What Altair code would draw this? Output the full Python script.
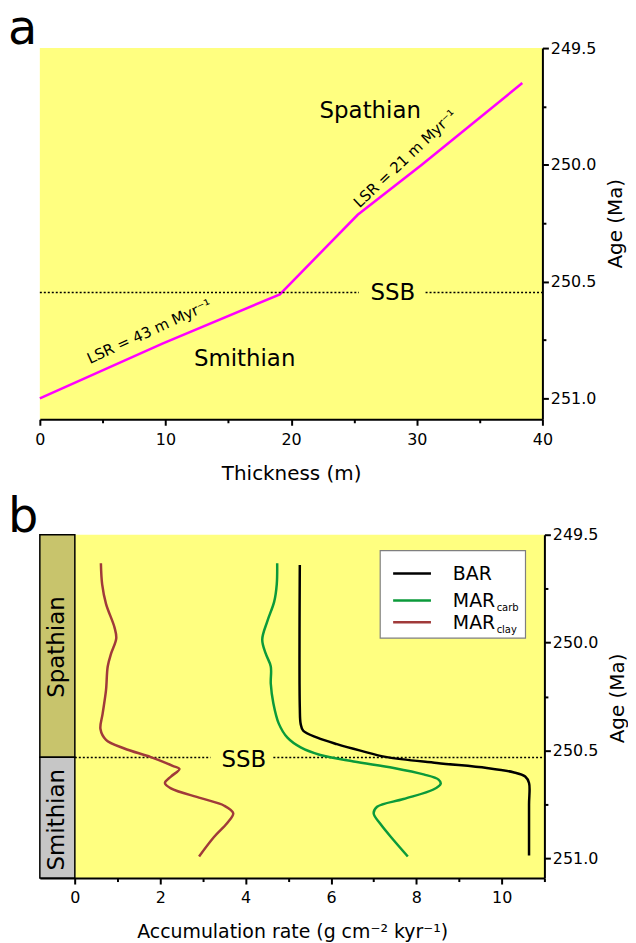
import altair as alt
import pandas as pd

FONT = "DejaVu Sans"
YELLOW = "#ffff80"

# ---------------- panel a data ----------------
thick_m = [0.0, 9.8, 19.1, 25.3, 30.4, 38.4]
thick_age = [251.0, 250.765, 250.555, 250.214, 250.0, 249.65]

ssb_age_a = 250.547
ssb_a_start = [0.0, 30.7]
ssb_a_end = [25.4, 40.0]

a_labels = ["Spathian", "Smithian", "SSB"]
a_label_x = [26.3, 16.3, 28.1]
a_label_age = [249.80, 250.86, 250.58]

lsr_labels = ["LSR = 43 m Myr⁻¹", "LSR = 21 m Myr⁻¹"]
lsr_x = [8.7, 29.07]
lsr_age = [250.714, 249.974]

panel_letters = ["a", "b"]

# ---------------- panel b data ----------------
stage_names = ["Spathian", "Smithian"]
stage_top = [249.5, 250.53]
stage_base = [250.53, 251.09]
stage_colors = ["#c8c46c", "#c6c6c6"]
stage_text_age = [250.02, 250.82]

bar_age = [249.64, 250.30, 250.376, 250.408, 250.44, 250.47, 250.50, 250.53,
           250.557, 250.58, 250.60, 250.62, 250.65, 250.75, 250.985]
bar_val = [5.27, 5.27, 5.29, 5.35, 5.68, 6.14, 6.69, 7.31,
           8.48, 9.65, 10.27, 10.55, 10.64, 10.64, 10.64]

carb_age = [249.632, 249.73, 249.81, 249.90, 249.985, 250.05, 250.11, 250.19,
            250.28, 250.376, 250.44, 250.485, 250.52, 250.55, 250.58, 250.61,
            250.634, 250.653, 250.68, 250.724, 250.76, 250.79, 250.84, 250.915, 250.99]
carb_val = [4.74, 4.73, 4.67, 4.51, 4.39, 4.47, 4.59, 4.59,
            4.65, 4.78, 4.98, 5.29, 5.75, 6.53, 7.47, 8.17,
            8.52, 8.57, 8.40, 7.70, 7.08, 7.00, 7.16, 7.47, 7.80]

clay_age = [249.632, 249.73, 249.82, 249.93, 249.98, 250.05, 250.11, 250.22,
            250.33, 250.40, 250.45, 250.49, 250.53, 250.57, 250.585, 250.62,
            250.65, 250.675, 250.72, 250.755, 250.79, 250.835, 250.90, 250.99]
clay_val = [0.61, 0.64, 0.73, 0.93, 0.97, 0.85, 0.77, 0.73,
            0.65, 0.60, 0.73, 1.16, 1.78, 2.29, 2.45, 2.25,
            2.11, 2.25, 2.95, 3.50, 3.71, 3.57, 3.26, 2.91]

series_names = ["BAR", "MAR_carb", "MAR_clay"]
series_colors = ["#000000", "#0b9a3a", "#a03a3a"]

ssb_age_b = 250.532
ssb_b_start = [0.0, 4.65]
ssb_b_end = [3.18, 11.0]
ssb_b_text_x = 3.96
ssb_b_text_age = 250.578

legend_main = ["BAR", "MAR", "MAR"]
legend_sub = ["", "carb", "clay"]

# ---------------- shared axis styling ----------------
y_values = [249.5, 249.75, 250.0, 250.25, 250.5, 250.75, 251.0]
major_y = "(datum.value * 4) % 2 === 0"


def y_enc(title_y, field="age:Q"):
    return alt.Y(
        field,
        scale=alt.Scale(domain=[249.5, 251.09], reverse=True, nice=False, zero=False),
        axis=alt.Axis(
            orient="right", values=y_values, format=".1f",
            labelExpr=f"{major_y} ? datum.label : ''",
            tickSize={"condition": {"test": major_y, "value": 6}, "value": 3.5},
            labelPadding=2, title="Age (Ma)", titleFontSize=20,
            titleAngle=270, titleBaseline="top", titlePadding=10, titleY=title_y,
        ),
    )


def xa_enc(field="x:Q"):
    return alt.X(
        field,
        scale=alt.Scale(domain=[0, 40], nice=False, zero=False),
        axis=alt.Axis(
            values=list(range(0, 41, 5)),
            labelExpr="datum.value % 10 === 0 ? datum.label : ''",
            tickSize={"condition": {"test": "datum.value % 10 === 0", "value": 6}, "value": 3.5},
            labelPadding=6, title="Thickness (m)", titleFontSize=20, titlePadding=17,
        ),
    )


def xb_enc(field="x:Q"):
    return alt.X(
        field,
        scale=alt.Scale(domain=[-0.82, 11.0], nice=False, zero=False),
        axis=alt.Axis(
            values=list(range(0, 12)),
            labelExpr="datum.value % 2 === 0 ? datum.label : ''",
            tickSize={"condition": {"test": "datum.value % 2 === 0", "value": 6}, "value": 3.5},
            labelPadding=6, title="Accumulation rate (g cm⁻² kyr⁻¹)", titleFontSize=19,
            titlePadding=17,
        ),
    )


TY_A = 176
TY_B = 164

# ---------------- panel a ----------------
df_line_a = pd.DataFrame({"x": thick_m, "age": thick_age})
line_a = alt.Chart(df_line_a).mark_line(color="#ff00ff", strokeWidth=2.5).encode(
    x=xa_enc(), y=y_enc(TY_A), order="age:Q"
)

df_ssb_a = pd.DataFrame({"x": ssb_a_start, "x2": ssb_a_end, "age": [ssb_age_a] * 2})
ssb_a = alt.Chart(df_ssb_a).mark_rule(color="black", strokeWidth=1.6, strokeDash=[2, 2]).encode(
    x=xa_enc(), x2="x2:Q", y=y_enc(TY_A)
)

df_lab_a = pd.DataFrame({"x": a_label_x, "age": a_label_age, "label": a_labels})
lab_a = alt.Chart(df_lab_a).mark_text(font=FONT, fontSize=23, align="center",
                                      baseline="alphabetic", color="black").encode(
    x=xa_enc(), y=y_enc(TY_A), text="label:N"
)

df_lsr1 = pd.DataFrame({"x": [lsr_x[0]], "age": [lsr_age[0]], "label": [lsr_labels[0]]})
lsr1 = alt.Chart(df_lsr1).mark_text(font=FONT, fontSize=15, angle=335.5, align="center",
                                    baseline="middle", color="black").encode(
    x=xa_enc(), y=y_enc(TY_A), text="label:N"
)
df_lsr2 = pd.DataFrame({"x": [lsr_x[1]], "age": [lsr_age[1]], "label": [lsr_labels[1]]})
lsr2 = alt.Chart(df_lsr2).mark_text(font=FONT, fontSize=15, angle=316.7, align="center",
                                    baseline="middle", color="black").encode(
    x=xa_enc(), y=y_enc(TY_A), text="label:N"
)

letter_a = alt.Chart(pd.DataFrame({"label": [panel_letters[0]]})).mark_text(
    font=FONT, fontSize=48, align="left", baseline="alphabetic", color="black"
).encode(x=alt.value(-32), y=alt.value(-4), text="label:N")

panel_a = alt.layer(line_a, ssb_a, lab_a, lsr1, lsr2, letter_a).properties(width=505, height=373)

# ---------------- panel b ----------------
df_stage = pd.DataFrame({
    "x": [-0.82, -0.82], "x2": [0.0, 0.0],
    "age": stage_top, "age2": stage_base, "stage": stage_names,
})
stages = alt.Chart(df_stage).mark_rect(stroke="black", strokeWidth=1.5).encode(
    x=xb_enc(), x2="x2:Q", y=y_enc(TY_B), y2="age2:Q",
    fill=alt.Fill("stage:N", scale=alt.Scale(domain=stage_names, range=stage_colors), legend=None),
)

df_stage_txt = pd.DataFrame({"x": [-0.41, -0.41], "age": stage_text_age, "label": stage_names})
stage_txt = alt.Chart(df_stage_txt).mark_text(font=FONT, fontSize=23, angle=270, align="center",
                                              baseline="middle", color="black").encode(
    x=xb_enc(), y=y_enc(TY_B), text="label:N"
)

df_ssb_b = pd.DataFrame({"x": ssb_b_start, "x2": ssb_b_end, "age": [ssb_age_b] * 2})
ssb_b = alt.Chart(df_ssb_b).mark_rule(color="black", strokeWidth=1.6, strokeDash=[2, 2]).encode(
    x=xb_enc(), x2="x2:Q", y=y_enc(TY_B)
)
ssb_b_txt = alt.Chart(pd.DataFrame({"x": [ssb_b_text_x], "age": [ssb_b_text_age], "label": ["SSB"]})).mark_text(
    font=FONT, fontSize=23, align="center", baseline="alphabetic", color="black"
).encode(x=xb_enc(), y=y_enc(TY_B), text="label:N")

df_curves = pd.concat([
    pd.DataFrame({"x": bar_val, "age": bar_age, "series": series_names[0]}),
    pd.DataFrame({"x": carb_val, "age": carb_age, "series": series_names[1]}),
    pd.DataFrame({"x": clay_val, "age": clay_age, "series": series_names[2]}),
])
curves = alt.Chart(df_curves).mark_line(strokeWidth=2.5, interpolate="catmull-rom").encode(
    x=xb_enc(), y=y_enc(TY_B),
    color=alt.Color("series:N", scale=alt.Scale(domain=series_names, range=series_colors), legend=None),
    order="age:Q",
)

# manual legend (pixel positions inside panel b)
one = pd.DataFrame({"k": [0]})
leg_box = alt.Chart(one).mark_rect(fill="white", stroke="#7f7f7f", strokeWidth=1.2).encode(
    x=alt.value(342), x2=alt.value(488), y=alt.value(16), y2=alt.value(104)
)
leg_items = []
leg_y = [39, 66, 88]
for i in range(3):
    leg_items.append(
        alt.Chart(pd.DataFrame({"series": [series_names[i]]})).mark_rule(strokeWidth=2.5, color=series_colors[i]).encode(
            x=alt.value(355), x2=alt.value(393), y=alt.value(leg_y[i])
        )
    )
    leg_items.append(
        alt.Chart(pd.DataFrame({"label": [legend_main[i]]})).mark_text(
            font=FONT, fontSize=19, align="left", baseline="alphabetic", color="black"
        ).encode(x=alt.value(415), y=alt.value(leg_y[i] + 7), text="label:N")
    )
    if legend_sub[i]:
        leg_items.append(
            alt.Chart(pd.DataFrame({"label": [legend_sub[i]]})).mark_text(
                font=FONT, fontSize=10, align="left", baseline="alphabetic", color="black"
            ).encode(x=alt.value(459), y=alt.value(leg_y[i] + 11), text="label:N")
        )

letter_b = alt.Chart(pd.DataFrame({"label": [panel_letters[1]]})).mark_text(
    font=FONT, fontSize=48, align="left", baseline="alphabetic", color="black"
).encode(x=alt.value(-32), y=alt.value(-3), text="label:N")

panel_b = alt.layer(stages, stage_txt, ssb_b, ssb_b_txt, curves, leg_box, *leg_items, letter_b).properties(
    width=507, height=345
)

chart = alt.vconcat(panel_a, panel_b, spacing=10).properties(
    padding={"left": 0, "top": -4, "right": 0, "bottom": 0}
).configure_view(stroke=None, fill=YELLOW).configure_axis(
    domainColor="black", domainWidth=2, tickColor="black", tickWidth=2,
    labelFont=FONT, labelFontSize=16, labelColor="black",
    titleFont=FONT, titleFontWeight="normal", titleColor="black",
    grid=False, labelFlush=False, labelOverlap=False,
).configure_scale(continuousPadding=0)

chart.save("out.html", embed_options={"renderer": "svg", "actions": False})
